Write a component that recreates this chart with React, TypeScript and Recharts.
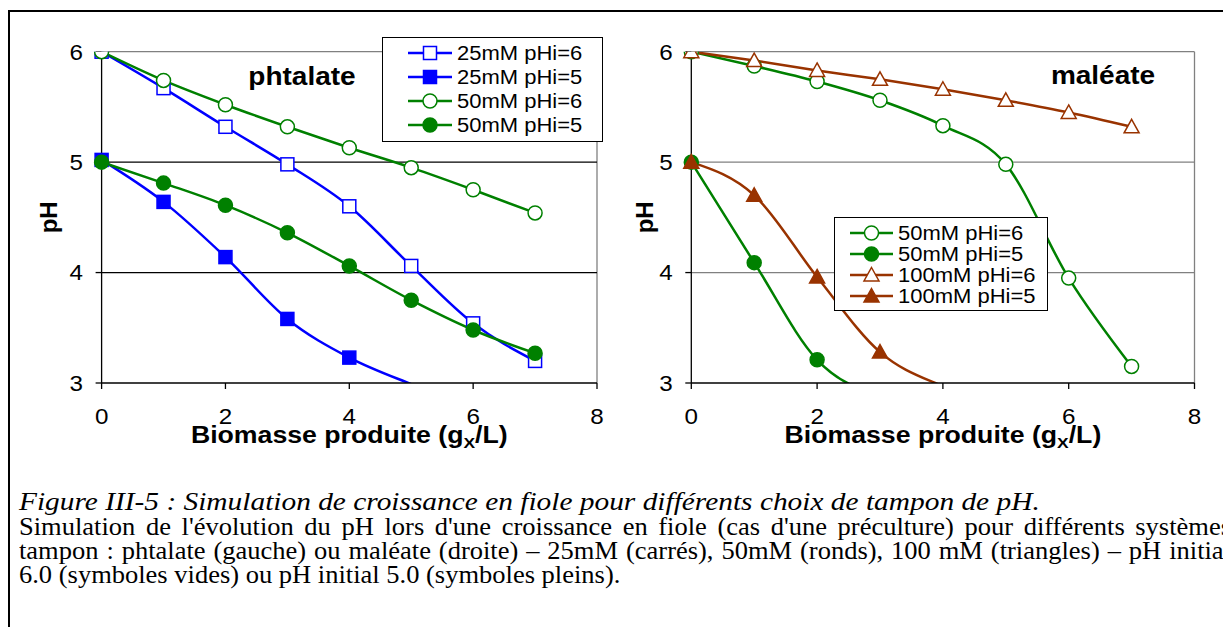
import React from 'react';
import { LineChart, Line, XAxis, YAxis, ReferenceLine, Legend } from 'recharts';

const SANS = '"Liberation Sans", Arial, sans-serif';
const SERIF = '"Liberation Serif", "Times New Roman", serif';

const BLUE = '#0000ff';
const GREEN = '#008000';
const BROWN = '#993300';

// biomasse produite (gX/L)
const biomass = [0, 1, 2, 3, 4, 5, 6, 7];
const xTicks = [0, 2, 4, 6, 8];
const yTicks = [3, 4, 5, 6];

// phtalate
const phta25pH6 = [6.0, 5.67, 5.32, 4.98, 4.6, 4.06, 3.54, 3.2];
const phta25pH5 = [5.02, 4.64, 4.14, 3.58, 3.23, 2.99, 2.78, null];
const phta50pH6 = [6.0, 5.74, 5.52, 5.32, 5.13, 4.95, 4.75, 4.54];
const phta50pH5 = [5.0, 4.81, 4.61, 4.36, 4.06, 3.75, 3.48, 3.27];

// maléate
const male50pH6 = [6.0, 5.87, 5.73, 5.56, 5.33, 4.98, 3.95, 3.15];
const male50pH5 = [5.0, 4.09, 3.21, 2.88, null, null, null, null];
const male100pH6 = [6.0, 5.92, 5.83, 5.75, 5.66, 5.56, 5.45, 5.32];
const male100pH5 = [5.0, 4.7, 3.96, 3.28, 2.97, 2.78, null, null];

type Shape = 'square' | 'circle' | 'triangle';
type Series = {
  key: string;
  name: string;
  values: (number | null)[];
  color: string;
  shape: Shape;
  filled: boolean;
};

const phtalateSeries: Series[] = [
  { key: 'a', name: '25mM pHi=6', values: phta25pH6, color: BLUE, shape: 'square', filled: false },
  { key: 'b', name: '25mM pHi=5', values: phta25pH5, color: BLUE, shape: 'square', filled: true },
  { key: 'c', name: '50mM pHi=6', values: phta50pH6, color: GREEN, shape: 'circle', filled: false },
  { key: 'd', name: '50mM pHi=5', values: phta50pH5, color: GREEN, shape: 'circle', filled: true },
];

const maleateSeries: Series[] = [
  { key: 'a', name: '50mM pHi=6', values: male50pH6, color: GREEN, shape: 'circle', filled: false },
  { key: 'b', name: '50mM pHi=5', values: male50pH5, color: GREEN, shape: 'circle', filled: true },
  { key: 'c', name: '100mM pHi=6', values: male100pH6, color: BROWN, shape: 'triangle', filled: false },
  { key: 'd', name: '100mM pHi=5', values: male100pH5, color: BROWN, shape: 'triangle', filled: true },
];

function Marker({ cx, cy, shape, filled, color }: { cx: number; cy: number; shape: Shape; filled: boolean; color: string }) {
  const fill = filled ? color : '#fff';
  if (shape === 'square') {
    return <rect x={cx - 6.5} y={cy - 6.5} width={13} height={13} fill={fill} stroke={color} strokeWidth={1.5} />;
  }
  if (shape === 'circle') {
    return <circle cx={cx} cy={cy} r={7} fill={fill} stroke={color} strokeWidth={1.5} />;
  }
  return (
    <polygon
      points={`${cx},${cy - 7.5} ${cx + 7.5},${cy + 6} ${cx - 7.5},${cy + 6}`}
      fill={fill}
      stroke={color}
      strokeWidth={1.5}
    />
  );
}

const makeDot = (s: Series) => (p: any) => {
  const k = `${s.key}-${p.index}`;
  const v = p.payload ? p.payload[s.key] : null;
  if (v == null || v < 3 || p.cx == null || p.cy == null) return <g key={k} />;
  return <Marker key={k} cx={p.cx} cy={p.cy} shape={s.shape} filled={s.filled} color={s.color} />;
};

function XTick({ x, y, payload }: any) {
  return (
    <text
      transform={`translate(${x},${y + 34.5}) scale(1.1,1)`}
      textAnchor="middle"
      fontFamily={SANS}
      fontSize={22}
      fill="#000"
    >
      {payload.value}
    </text>
  );
}

function YTick({ x, y, payload }: any) {
  return (
    <text
      transform={`translate(${x - 12.6},${y + 7.8}) scale(1.1,1)`}
      textAnchor="end"
      fontFamily={SANS}
      fontSize={22}
      fill="#000"
    >
      {payload.value}
    </text>
  );
}

type LegendLayout = {
  left: number;
  top: number;
  width: number;
  height: number;
  firstRow: number;
  rowGap: number;
  lineX1: number;
  lineX2: number;
  textX: number;
};

function LegendBox({ series, lay }: { series: Series[]; lay: LegendLayout }) {
  const mid = (lay.lineX1 + lay.lineX2) / 2;
  return (
    <div
      style={{
        position: 'relative',
        width: lay.width,
        height: lay.height,
        boxSizing: 'border-box',
        border: '1px solid #000',
        background: '#fff',
      }}
    >
      {series.map((s, i) => {
        const cy = lay.firstRow + i * lay.rowGap;
        return (
          <div key={s.key}>
            <svg
              width={lay.lineX2 + 2}
              height={20}
              style={{ position: 'absolute', left: -1, top: cy - 10 - 1, overflow: 'visible' }}
            >
              <line x1={lay.lineX1} y1={10} x2={lay.lineX2} y2={10} stroke={s.color} strokeWidth={2.5} />
              <Marker cx={mid} cy={10} shape={s.shape} filled={s.filled} color={s.color} />
            </svg>
            <span
              style={{
                position: 'absolute',
                left: lay.textX - 1,
                top: cy - 12 - 1,
                lineHeight: '24px',
                fontSize: 20,
                fontFamily: SANS,
                color: '#000',
                whiteSpace: 'nowrap',
                transform: 'scaleX(1.1)',
                transformOrigin: 'left center',
              }}
            >
              {s.name}
            </span>
          </div>
        );
      })}
    </div>
  );
}

type PanelProps = {
  left: number;
  series: Series[];
  axisLeft: number;
  axisRight: number;
  gridColor: string;
  legend: LegendLayout;
  pHx: number;
};

const W = 610;
const H = 460;
const PLOT_TOP = 51.7;
const PLOT_BOTTOM = 383;
const X_AXIS_H = 40;
const Y_AXIS_W = 60;

function Panel({ left, series, axisLeft, axisRight, gridColor, legend, pHx }: PanelProps) {
  const data = biomass.map((x, i) => {
    const row: Record<string, number | null> = { x };
    series.forEach((s) => {
      row[s.key] = s.values[i];
    });
    return row;
  });

  return (
    <div style={{ position: 'absolute', left, top: 0 }}>
      <LineChart
        width={W}
        height={H}
        data={data}
        margin={{ top: PLOT_TOP, right: W - axisRight, bottom: H - PLOT_BOTTOM - X_AXIS_H, left: axisLeft - Y_AXIS_W }}
      >
        <XAxis
          type="number"
          dataKey="x"
          domain={[0, 8]}
          ticks={xTicks}
          height={X_AXIS_H}
          tickSize={6}
          tickMargin={0}
          axisLine={{ stroke: '#000', strokeWidth: 1.3 }}
          tickLine={{ stroke: '#000', strokeWidth: 1.3 }}
          tick={<XTick />}
          label={{
            content: ({ viewBox }: any) => (
              <text
                transform={`translate(${viewBox.x + viewBox.width / 2},${viewBox.y + 60}) scale(1.16,1)`}
                textAnchor="middle"
                fontFamily={SANS}
                fontWeight="bold"
                fontSize={23}
                fill="#000"
              >
                Biomasse produite (g
                <tspan fontSize={15} dy={5}>X</tspan>
                <tspan dy={-5}>/L)</tspan>
              </text>
            ),
          }}
        />
        <YAxis
          type="number"
          domain={[3, 6]}
          ticks={yTicks}
          allowDataOverflow
          width={Y_AXIS_W}
          tickSize={6}
          tickMargin={0}
          axisLine={{ stroke: '#000', strokeWidth: 1.3 }}
          tickLine={{ stroke: '#000', strokeWidth: 1.3 }}
          tick={<YTick />}
          label={{
            content: ({ viewBox }: any) => (
              <text
                transform={`translate(${pHx + 8.6},${viewBox.y + viewBox.height / 2}) rotate(-90)`}
                textAnchor="middle"
                fontFamily={SANS}
                fontWeight="bold"
                fontSize={24}
                fill="#000"
              >
                pH
              </text>
            ),
          }}
        />
        <ReferenceLine y={6} stroke="#808080" strokeWidth={1.3} />
        <ReferenceLine x={8} stroke="#808080" strokeWidth={1.3} />
        <ReferenceLine y={5} stroke={gridColor} strokeWidth={1.2} />
        <ReferenceLine y={4} stroke={gridColor} strokeWidth={1.2} />
        {series.map((s) => (
          <Line
            key={s.key}
            type="monotone"
            dataKey={s.key}
            name={s.name}
            stroke={s.color}
            strokeWidth={2.5}
            dot={makeDot(s)}
            activeDot={false}
            isAnimationActive={false}
          />
        ))}
        <Legend
          layout="vertical"
          align="center"
          verticalAlign="middle"
          wrapperStyle={{ left: legend.left, top: legend.top, width: legend.width, height: legend.height }}
          content={() => <LegendBox series={series} lay={legend} />}
        />
      </LineChart>
    </div>
  );
}

const captionTitle = 'Figure III-5 : Simulation de croissance en fiole pour différents choix de tampon de pH.';
const captionLines = [
  "Simulation de l'évolution du pH lors d'une croissance en fiole (cas d'une préculture) pour différents systèmes",
  'tampon : phtalate (gauche) ou maléate (droite) – 25mM (carrés), 50mM (ronds), 100 mM (triangles) – pH initial',
];
const captionLast = '6.0 (symboles vides) ou pH initial 5.0 (symboles pleins).';

const BODY_SCALE = 1.06;

export default function App() {
  const lineStyle: React.CSSProperties = {
    position: 'absolute',
    left: 19,
    height: 24,
    lineHeight: '24px',
    fontFamily: SERIF,
    fontSize: 25,
    color: '#000',
    transformOrigin: 'left center',
  };
  return (
    <div
      style={{
        position: 'fixed',
        left: 0,
        top: 0,
        width: 1223,
        height: 627,
        overflow: 'hidden',
        background: '#fff',
      }}
    >
      {/* frame */}
      <div style={{ position: 'absolute', left: 8, top: 10, width: 1300, height: 2, background: '#000' }} />
      <div style={{ position: 'absolute', left: 8, top: 10, width: 2, height: 700, background: '#000' }} />

      <Panel
        left={0}
        series={phtalateSeries}
        axisLeft={101.6}
        axisRight={597}
        gridColor="#000"
        pHx={48}
        legend={{ left: 382, top: 37, width: 221, height: 105, firstRow: 16.3, rowGap: 23.9, lineX1: 26, lineX2: 70, textX: 75 }}
      />
      <Panel
        left={600}
        series={maleateSeries}
        axisLeft={91.3}
        axisRight={594.5}
        gridColor="#808080"
        pHx={44}
        legend={{ left: 234, top: 217, width: 214, height: 94, firstRow: 16, rowGap: 21, lineX1: 16, lineX2: 59, textX: 64 }}
      />

      <svg width={1223} height={627} style={{ position: 'absolute', left: 0, top: 0, pointerEvents: 'none' }}>
        <text
          transform="translate(302,85) scale(1.12,1)"
          textAnchor="middle"
          fontFamily={SANS}
          fontWeight="bold"
          fontSize={25}
          fill="#000"
        >
          phtalate
        </text>
        <text
          transform="translate(1103,83.5) scale(1.12,1)"
          textAnchor="middle"
          fontFamily={SANS}
          fontWeight="bold"
          fontSize={25}
          fill="#000"
        >
          maléate
        </text>
      </svg>

      <div
        style={{
          ...lineStyle,
          top: 490.2,
          fontSize: 26,
          fontStyle: 'italic',
          whiteSpace: 'nowrap',
          transform: 'scaleX(1.13)',
        }}
      >
        {captionTitle}
      </div>
      {captionLines.map((t, i) => (
        <div
          key={i}
          style={{
            ...lineStyle,
            top: 514.6 + i * 24,
            width: 1212 / BODY_SCALE,
            textAlign: 'justify',
            textAlignLast: 'justify',
            transform: `scaleX(${BODY_SCALE})`,
          }}
        >
          {t}
        </div>
      ))}
      <div style={{ ...lineStyle, top: 562.6, whiteSpace: 'nowrap', transform: `scaleX(${BODY_SCALE})` }}>
        {captionLast}
      </div>
    </div>
  );
}
